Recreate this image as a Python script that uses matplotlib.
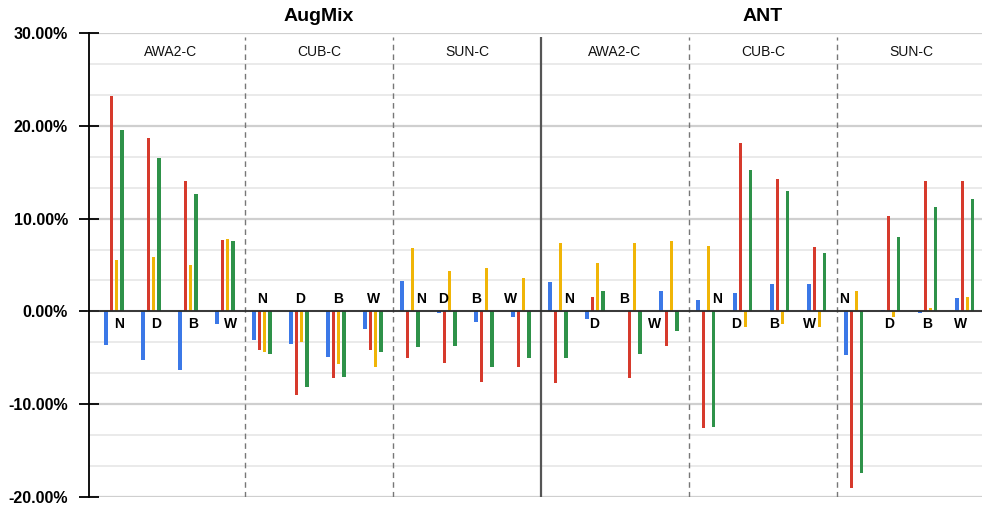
import matplotlib.pyplot as plt
import numpy as np

plt.rcParams['font.family'] = ['Liberation Sans', 'DejaVu Sans']

methods = ['AugMix', 'ANT']
datasets = ['AWA2-C', 'CUB-C', 'SUN-C']
subsets = ['N', 'D', 'B', 'W']

# change in % per subset, blocks of 4 = one dataset, 6 blocks = AugMix then ANT
blue = [-3.6, -5.2, -6.3, -1.4,   -3.1, -3.5, -4.9, -1.9,   3.3, -0.15, -1.1, -0.65,
        3.2, -0.8, 0.0, 2.25,     1.25, 1.95, 3.0, 2.9,     -4.7, 0.1, -0.2, 1.45]
red = [23.2, 18.7, 14.0, 7.7,     -4.2, -9.0, -7.2, -4.2,   -5.0, -5.6, -7.6, -6.0,
       -7.7, 1.55, -7.2, -3.7,    -12.6, 18.2, 14.3, 6.9,   -19.0, 10.3, 14.0, 14.0]
yellow = [5.5, 5.85, 5.0, 7.8,    -4.4, -3.3, -5.7, -6.0,   6.8, 4.4, 4.7, 3.6,
          7.4, 5.2, 7.4, 7.6,     7.1, -1.7, -1.4, -1.7,    2.2, -0.65, 0.35, 1.6]
green = [19.6, 16.5, 12.6, 7.6,   -4.55, -8.1, -7.1, -4.4,  -3.8, -3.7, -6.0, -5.0,
         -5.0, 2.2, -4.6, -2.1,   -12.45, 15.25, 13.0, 6.3, -17.4, 8.0, 11.3, 12.1]

series = [blue, red, yellow, green]
colors = ['#3b78e7', '#d63a2c', '#f0b507', '#2e9249']

# where each N/D/B/W tag sits: shift from the first bar (px) and above/below zero
tag_dx = [13.5, 13.5, 13.5, 13.5,  8, 9.3, 10, 8.7,  19, 4, 0, -2,
          19, 6.7, 0, -6.7,  19.4, 0.7, 2, 1,  -2, 5.7, 6.7, 3.3]
tag_up = [0, 0, 0, 0,  1, 1, 1, 1,  1, 1, 1, 1,
          1, 0, 1, 0,  1, 0, 0, 0,  1, 0, 0, 0]

px = 1 / 37.0  # one subset slot is 37 px wide
first = 9 * px
step = 5.3 * px
w = 3.2 * px

fig = plt.figure(figsize=(9.82, 5.07), dpi=100)
ax = fig.add_axes([89 / 982, 10 / 507, 893 / 982, 464 / 507])

n = len(blue)
x = np.arange(n)

# grid
for v in np.arange(-20, 30.01, 10 / 3):
    major = abs(v / 10 - round(v / 10)) < 1e-6
    ax.axhline(v, color='#cfcfcf' if major else '#e4e4e4',
               lw=1.6 if major else 1.1, zorder=0)

for i, (vals, c) in enumerate(zip(series, colors)):
    ax.bar(x + first + i * step, vals, width=w, color=c, align='center', zorder=3)

ax.plot([-9 * px, n], [0, 0], color='#2b2b2b', lw=1.3, zorder=4, clip_on=False)

# dataset separators
for k in range(1, 6):
    if k == 3:
        ax.vlines(k * 4, -20, 29.6, color='#555555', lw=1.6, zorder=2)
    else:
        ax.vlines(k * 4, -20, 29.6, color='#777777', lw=1.0,
                  linestyles=(0, (4, 3)), zorder=2)

# dataset names
for k in range(6):
    ax.text(k * 4 + 2, 28.0, datasets[k % 3], ha='center', va='center',
            fontsize=10, color='#111111')

# subset tags
for j in range(n):
    off = 9 if tag_up[j] else -9
    ax.annotate(subsets[j % 4], (x[j] + first + tag_dx[j] * px, 0),
                xytext=(0, off), textcoords='offset points',
                ha='center', va='center', fontsize=10, fontweight='bold',
                zorder=5)

ax.set_xlim(-8 * px, n - 3 * px)
ax.set_ylim(-20, 30)
ax.set_xticks([])
ax.set_yticks([-20, -10, 0, 10, 20, 30])
ax.set_yticklabels(['{:.2f}%'.format(t) for t in [-20, -10, 0, 10, 20, 30]],
                   fontsize=11.5, fontweight='bold')
ax.tick_params(axis='y', direction='inout', length=14.4, width=1.3, pad=8)

# method titles, centred over their half
for m, name in enumerate(methods):
    ax.annotate(name, (m * 12 + 6, 30), xycoords='data',
                xytext=(0, 12), textcoords='offset points',
                ha='center', va='center', fontsize=14, fontweight='bold',
                annotation_clip=False)

for s in ['top', 'right', 'bottom']:
    ax.spines[s].set_visible(False)
ax.spines['left'].set_linewidth(1.3)
ax.spines['left'].set_zorder(6)

fig.savefig('out.png', dpi=100)
